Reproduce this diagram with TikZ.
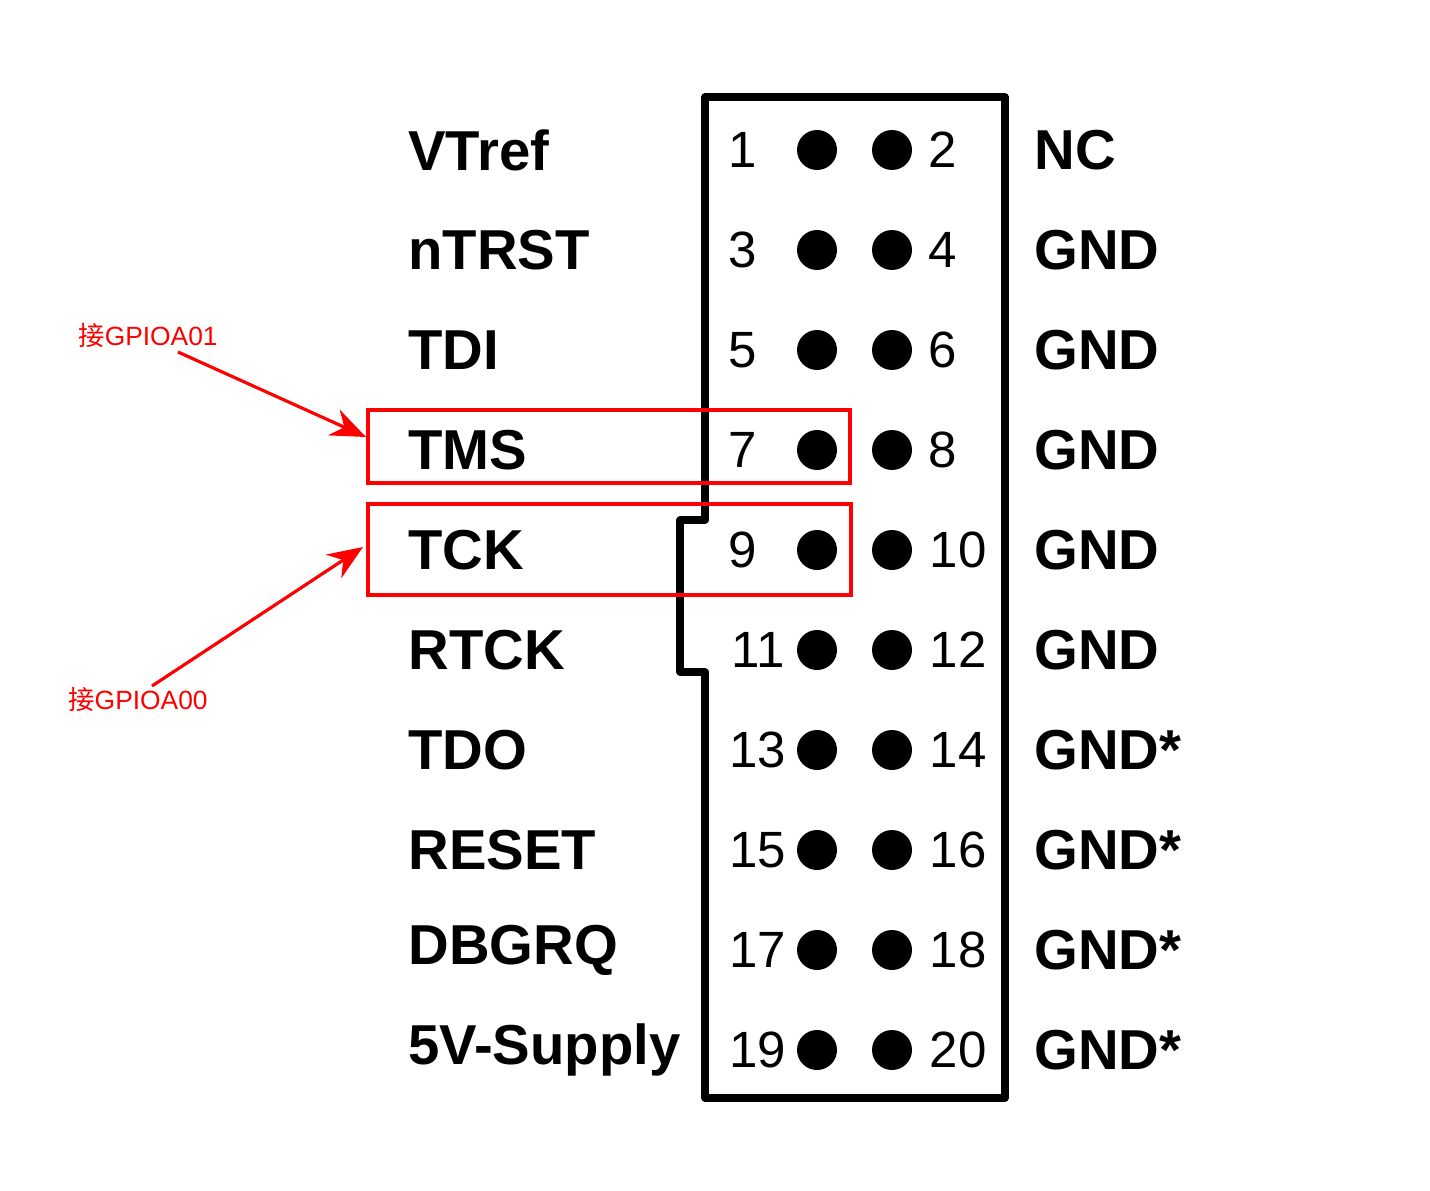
\documentclass[tikz,border=0pt]{standalone}
\usepackage{fontspec}
\setmainfont{Liberation Sans}
\newfontfamily\cjk{Noto Sans CJK SC}
\usetikzlibrary{arrows.meta}
\begin{document}
\begin{tikzpicture}[x=0.01cm,y=-0.01cm,
    sig/.style={anchor=west,font=\fontsize{16}{16}\selectfont\bfseries},
    num/.style={font=\fontsize{14.5}{14.5}\selectfont},
    note/.style={red,font=\fontsize{7.5}{7.5}\selectfont},
    hilite/.style={red,line width=0.9pt},
    pin/.style={fill=black}]
    \useasboundingbox (0,0) rectangle (1430,1191);
    % connector outline
    \draw[line width=2pt,line join=round] (705,97) -- (1005,97) -- (1005,1098) -- (705,1098)
        -- (705,672) -- (680,672) -- (680,520) -- (705,520) -- cycle;
    % pins and labels
    \foreach \l/\r [count=\i from 0] in {VTref/NC,nTRST/GND,TDI/GND,TMS/GND,TCK/GND,
        RTCK/GND,TDO/GND*,RESET/GND*,DBGRQ/GND*,5V-Supply/GND*} {
        \pgfmathtruncatemacro\a{2*\i+1}
        \pgfmathtruncatemacro\b{2*\i+2}
        \pgfmathsetmacro\y{150+100*\i}
        \node[sig] (l\a) at (396,\y) {\l};
        \node[sig] (r\b) at (1022,\y) {\r};
        \fill[pin] (817,\y) circle (20);
        \fill[pin] (892,\y) circle (20);
        \ifnum\a<10
            \node[num] (n\a) at (743,\y) {\a};
        \else
            \node[num] (n\a) at (758,\y) {\a};
        \fi
        \ifnum\b<10
            \node[num] (n\b) at (943,\y) {\b};
        \else
            \node[num] (n\b) at (958,\y) {\b};
        \fi
    }
    % highlighted pins
    \draw[hilite] (368,410) rectangle (850,483);
    \draw[hilite] (368,504) rectangle (851,595);
    \coordinate (tms) at (366,437);
    \coordinate (tck) at (363,547);
    \node[note] (a01) at (148,336) {{\cjk 接}GPIOA01};
    \node[note] (a00) at (138,700) {{\cjk 接}GPIOA00};
    \draw[hilite,-{Stealth[length=10pt,width=8pt]}] (178,352) -- (tms);
    \draw[hilite,-{Stealth[length=10pt,width=8pt]}] (152,686) -- (tck);
\end{tikzpicture}
\end{document}
